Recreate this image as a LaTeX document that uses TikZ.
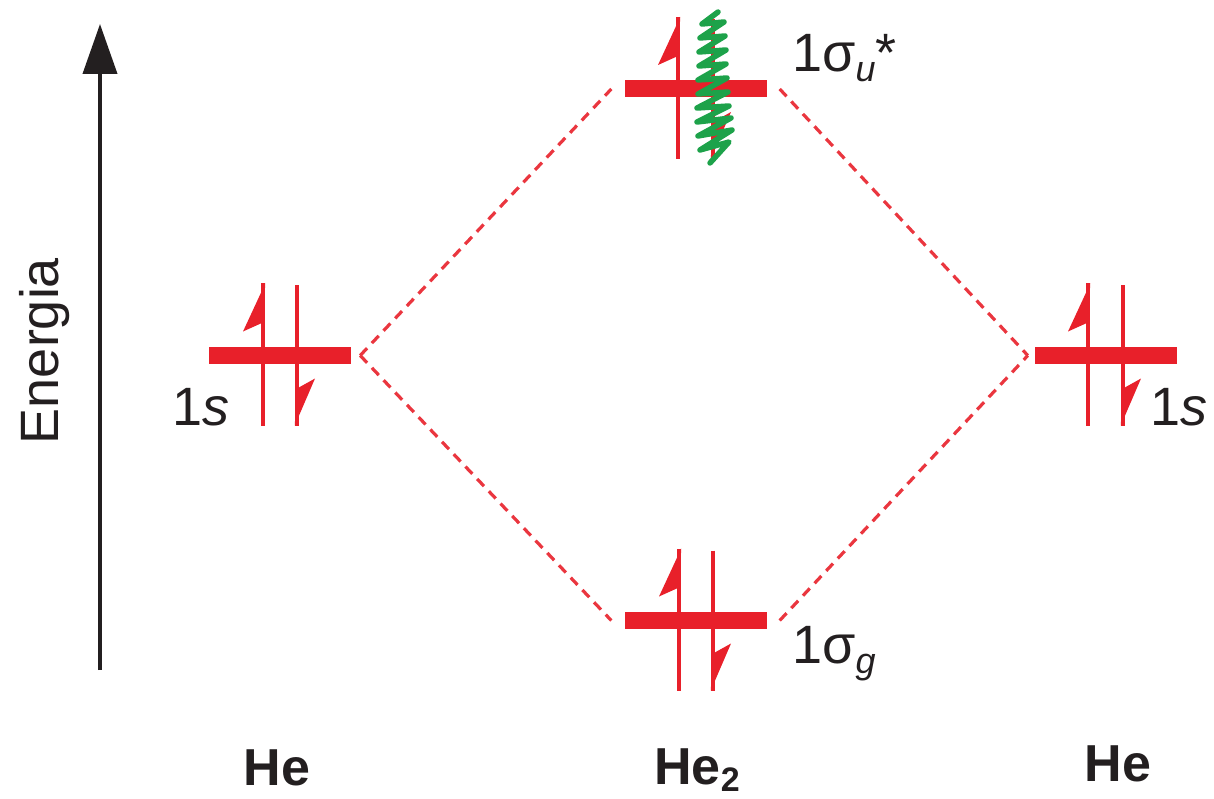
\documentclass[tikz,border=0pt]{standalone}
\usepackage{fontspec}
\setmainfont{Liberation Sans}
\usetikzlibrary{arrows.meta}
\definecolor{mored}{HTML}{E8202A}
\definecolor{scribble}{HTML}{1DA24A}
\definecolor{inkgray}{HTML}{231F20}
\tikzset{
  pics/upe/.style={code={
    \draw[shaft] (0,-72) -- (0,70);
    \fill[mored] (2.25,-72) -- (-20,-24) -- (0,-33) -- cycle;}},
  pics/dne/.style={code={
    \draw[shaft] (0,-70) -- (0,70);
    \fill[mored] (-2.25,70) -- (18,23) -- (0,33) -- cycle;}}
}
\begin{document}
\begin{tikzpicture}[x=1pt,y=-1pt,
  level/.style={fill=mored, draw=none, minimum width=142pt, minimum height=17pt, inner sep=0pt},
  shaft/.style={mored, line width=4.5pt},
  conn/.style={mored!90!white, line width=3.2pt, dash pattern=on 10pt off 7pt},
  lbl/.style={font=\fontsize{54}{60}\selectfont, inner sep=0pt, text=inkgray},
  atom/.style={font=\fontsize{52}{60}\selectfont\bfseries, inner sep=0pt, text=inkgray, anchor=base}]
\useasboundingbox (0,0) rectangle (1214,799);

% energy axis
\coordinate (e0) at (100,670);
\coordinate (e1) at (100,24);
\draw[inkgray, line width=4pt, -{Triangle[length=50pt,width=34pt]}] (e0) -- (e1);
\node[lbl, rotate=90, anchor=base] (en) at (58,351) {Energia};

% levels
\node[level] (L) at (280,355.5) {};
\node[level] (R) at (1106,355.5) {};
\node[level] (T) at (695.5,89) {};
\node[level] (B) at (695.5,620.5) {};

% electrons
\pic at (263,355.5) {upe};
\pic at (297,355.5) {dne};
\pic at (1088,355.5) {upe};
\pic at (1123,355.5) {dne};
\pic at (678,89) {upe};
\pic at (713,89) {dne};
\pic at (679,620.5) {upe};
\pic at (713,620.5) {dne};

% connectors
\draw[conn] ([xshift=9pt]L.east) -- ([xshift=-13pt]T.west);
\draw[conn] ([xshift=9pt]L.east) -- ([xshift=-13pt]B.west);
\draw[conn] ([xshift=13pt]T.east) -- ([xshift=-7pt]R.west);
\draw[conn] ([xshift=13pt]B.east) -- ([xshift=-7pt]R.west);

% green scribble
\draw[scribble, line width=5.5pt, line join=round, line cap=round]
  (718,12) -- (702,24) -- (724,22) -- (700,38) -- (725,36) -- (699,52) -- (726,50)
  -- (699,66) -- (726,64) -- (698,80) -- (727,78) -- (698,94) -- (728,92) -- (697,108)
  -- (729,106) -- (697,122) -- (731,118) -- (698,136) -- (732,130) -- (700,150)
  -- (729,142) -- (710,163);

% labels
\node[lbl, anchor=base west] (l1s) at (172,425) {1\textit{s}};
\node[lbl, anchor=base west] (r1s) at (1150,425) {1\textit{s}};
\node[lbl, anchor=base west] (su) at (792,72) {1σ\raisebox{-10pt}{\fontsize{36}{40}\selectfont\itshape u}*};
\node[lbl, anchor=base west] (sg) at (792,663) {1σ\raisebox{-10pt}{\fontsize{36}{40}\selectfont\itshape g}};

\node[atom] (he1) at (277,785) {He};
\node[atom] (he2) at (697,784) {He\raisebox{-7pt}{\fontsize{34}{40}\selectfont\bfseries 2}};
\node[atom] (he3) at (1118,781) {He};
\end{tikzpicture}
\end{document}
